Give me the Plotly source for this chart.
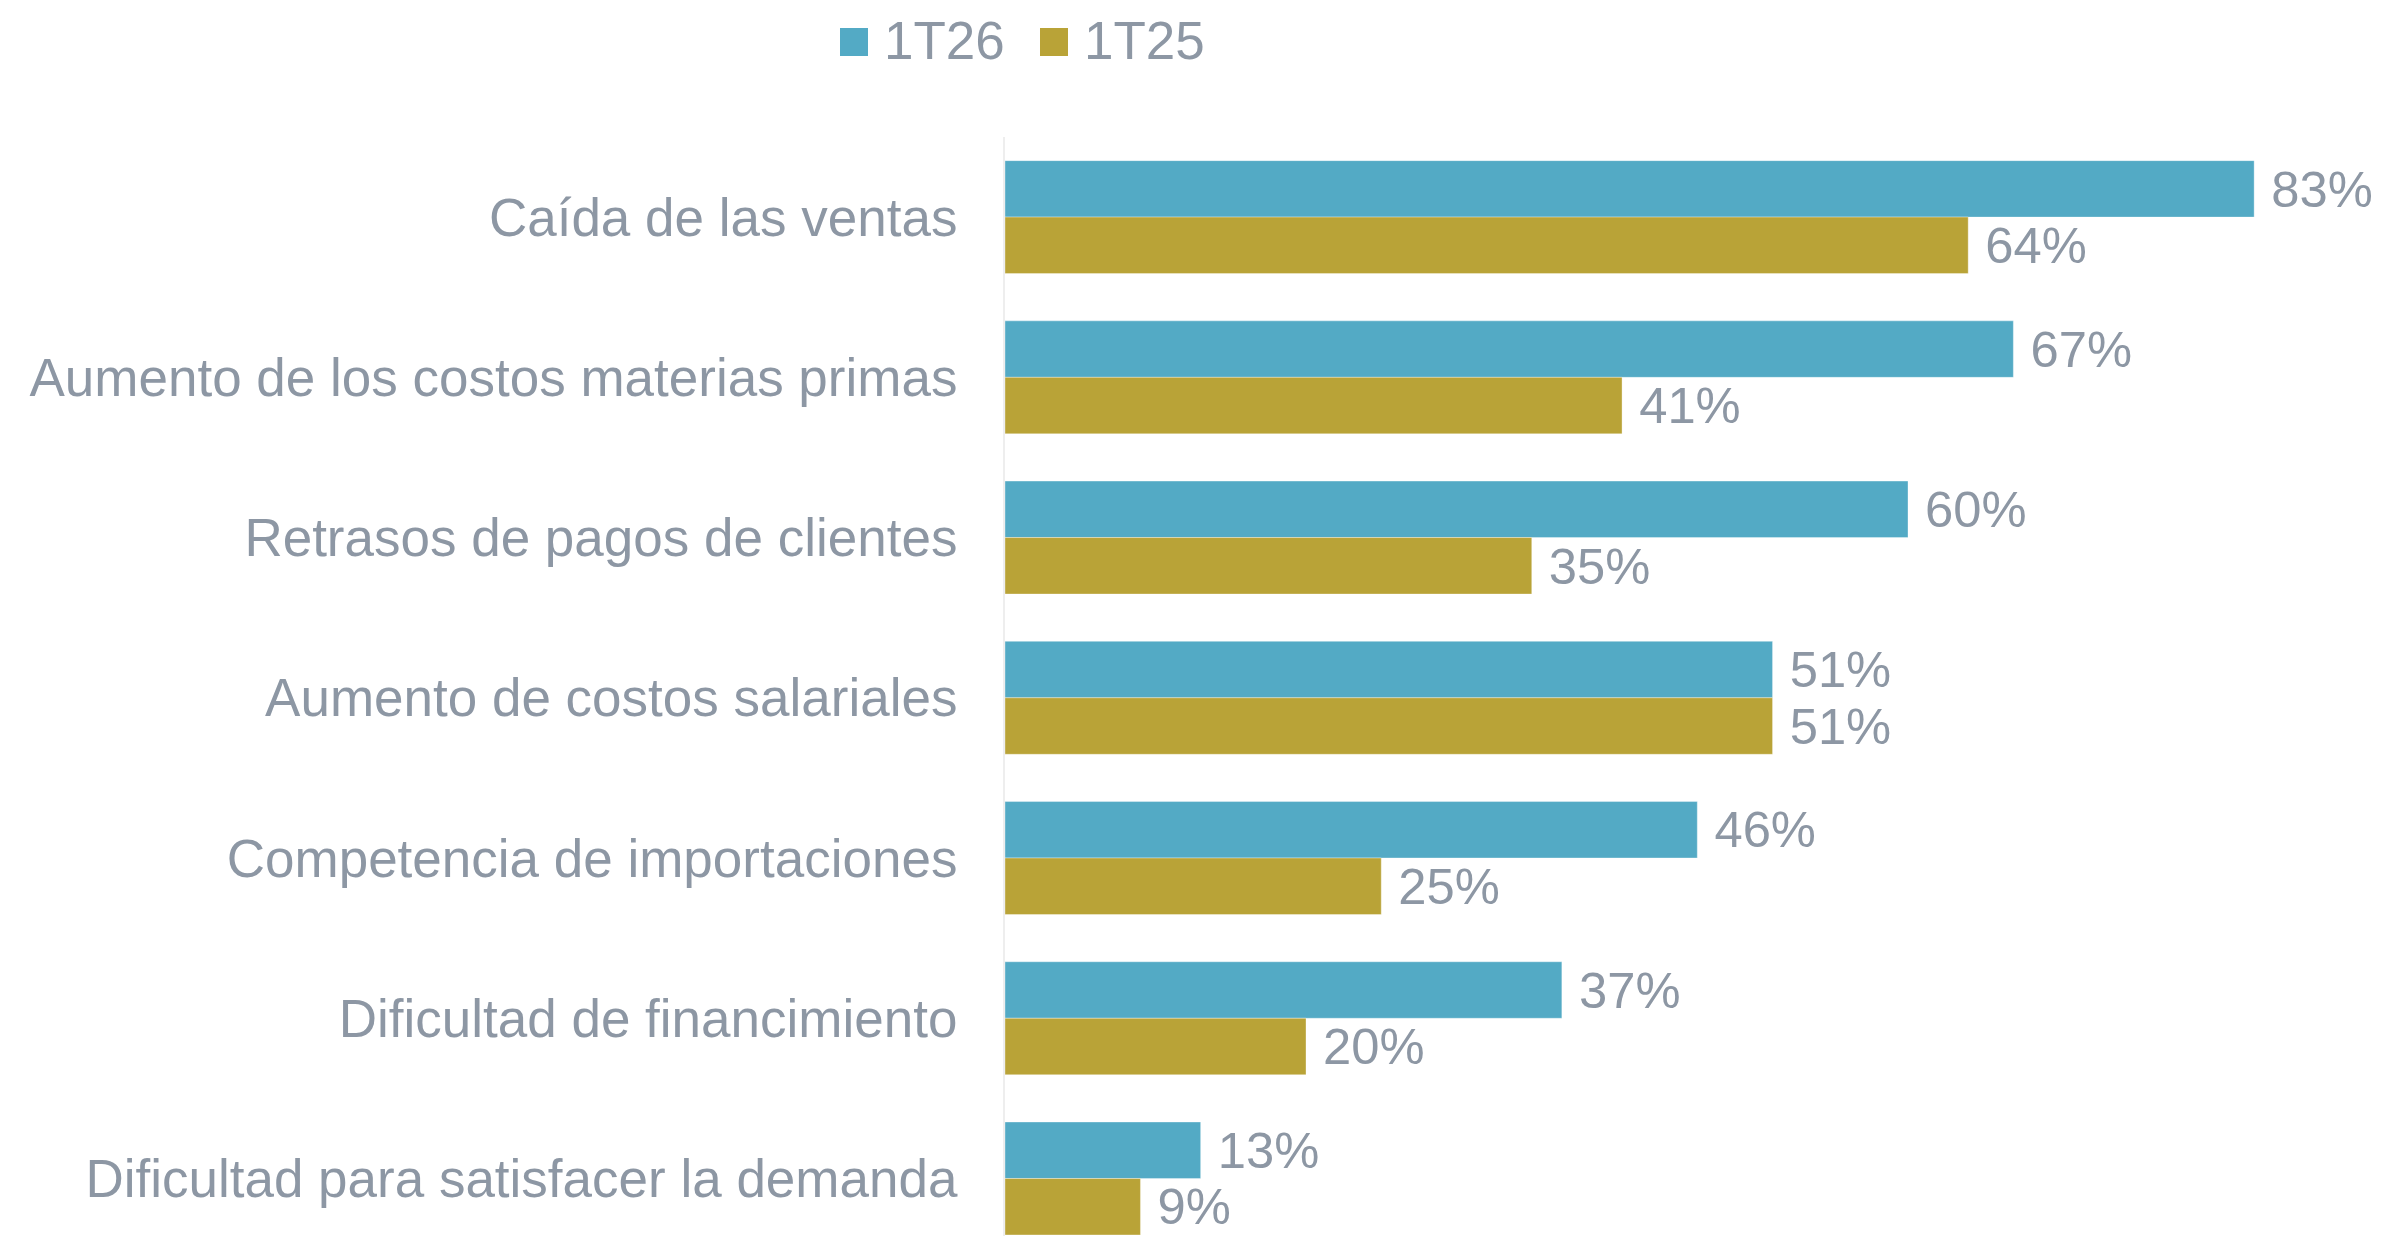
import plotly.graph_objects as go

categories = [
    "Caída de las ventas",
    "Aumento de los costos materias primas",
    "Retrasos de pagos de clientes",
    "Aumento de costos salariales",
    "Competencia de importaciones",
    "Dificultad de financimiento",
    "Dificultad para satisfacer la demanda",
]
series_names = ["1T26", "1T25"]
values_1t26 = [83, 67, 60, 51, 46, 37, 13]
values_1t25 = [64, 41, 35, 51, 25, 20, 9]

BLUE = "#53AAC5"
GOLD = "#B9A337"
TEXT = "#8D97A4"
FONT = "Arial, Liberation Sans, sans-serif"
FS = 53

W, H = 2382, 1236
ML, MT = 1005, 137

fig = go.Figure()
for name, vals, col in [(series_names[0], values_1t26, BLUE), (series_names[1], values_1t25, GOLD)]:
    fig.add_trace(go.Bar(
        y=categories, x=vals, name=name, orientation="h",
        marker=dict(color=col, line=dict(color="rgba(255,255,255,0.35)", width=1)),
        texttemplate=" %{x}%", textposition="outside", cliponaxis=False,
        textfont=dict(family=FONT, size=FS, color=TEXT),
        showlegend=False,
    ))

# Manual legend (large square swatches) in pixel-derived paper coords
def px_x(px):
    return (px - ML) / (W - ML)

def px_y(py):
    return (H - py) / (H - MT)

legend_items = [(series_names[0], BLUE, 840), (series_names[1], GOLD, 1040)]
for name, col, x0 in legend_items:
    fig.add_shape(type="rect", xref="paper", yref="paper",
                  x0=px_x(x0), x1=px_x(x0 + 28), y0=px_y(56), y1=px_y(28),
                  fillcolor=col, line=dict(width=0))
    fig.add_annotation(xref="paper", yref="paper", x=px_x(x0 + 42), y=px_y(41),
                       text=name, showarrow=False, xanchor="left", yanchor="middle",
                       font=dict(family=FONT, size=FS, color=TEXT))

fig.update_layout(
    width=W, height=H,
    margin=dict(l=ML, r=0, t=MT, b=0, pad=0),
    barmode="group", bargap=0.295, bargroupgap=0,
    plot_bgcolor="white", paper_bgcolor="white",
    font=dict(family=FONT, size=FS, color=TEXT),
    showlegend=False,
)
fig.update_xaxes(range=[0, (W - ML) / 15.05], visible=False, showgrid=False, zeroline=False)
fig.update_yaxes(
    type="category", categoryorder="array", categoryarray=categories,
    range=[6.359, -0.5], showline=True, linecolor="#EEEEEE", linewidth=2,
    showgrid=False, zeroline=False, ticks="", ticklabelstandoff=35,
    tickfont=dict(family=FONT, size=FS, color=TEXT), automargin=False,
)

fig.write_html(
    "out.html",
    config={"displayModeBar": False},
    post_script="document.body.style.margin='0';document.body.style.padding='0';document.body.style.overflow='hidden';",
)
